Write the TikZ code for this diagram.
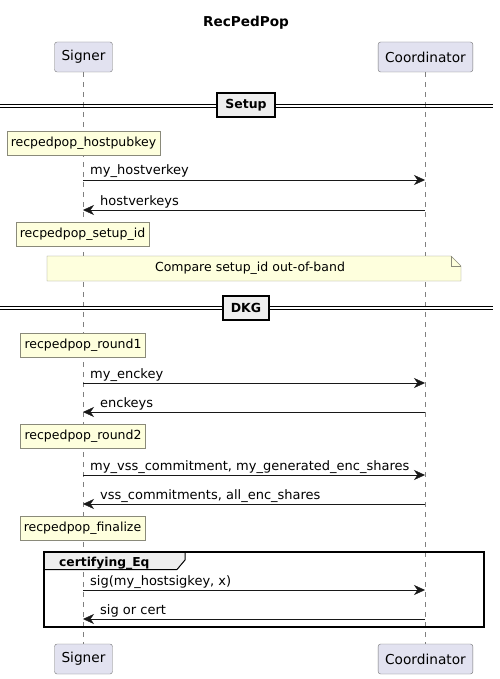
\documentclass[tikz,border=0pt]{standalone}
\usepackage{fontspec}
\setmainfont{DejaVu Sans}
\usetikzlibrary{arrows.meta}
\definecolor{partfill}{HTML}{E2E2F0}
\definecolor{notefill}{HTML}{FEFFDD}
\definecolor{sepfill}{HTML}{EEEEEE}
\definecolor{ink}{HTML}{181818}
\definecolor{noteline}{HTML}{8A8A7A}
\tikzset{
  party/.style={draw=gray!90!black, fill=partfill, rounded corners=2.5pt,
    minimum height=30pt, inner xsep=7pt, font=\fontsize{13.7}{15}\selectfont},
  notebox/.style={draw=noteline, fill=notefill, minimum height=24pt,
    inner xsep=4pt, font=\fontsize{12.5}{14}\selectfont},
  msg/.style={draw=ink, -{Stealth[length=11pt,width=10pt,inset=3.5pt]}},
  msglabel/.style={font=\fontsize{13}{15}\selectfont, anchor=base west,
    inner sep=0pt},
  lifeline/.style={draw=gray, dash pattern=on 5pt off 5pt},
  sepbox/.style={draw, line width=1.8pt, fill=sepfill, minimum height=24pt,
    inner xsep=8pt, font=\bfseries\fontsize{12.5}{14}\selectfont},
}
\begin{document}
\begin{tikzpicture}[x=1pt, y=-1pt]
  \useasboundingbox (0,0) rectangle (499,679);
  \node[font=\bfseries\fontsize{13.6}{15}\selectfont] (title) at (246,23) {RecPedPop};

  % participants
  \node[party] (signerTop) at (83.5,57) {Signer};
  \node[party] (coordTop) at (425.5,57) {Coordinator};
  \node[party] (signerBot) at (83.5,659) {Signer};
  \node[party] (coordBot) at (425.5,659) {Coordinator};
  \draw[lifeline] (signerTop) -- (signerBot);
  \draw[lifeline] (coordTop) -- (coordBot);

  % Setup
  \draw (0,104.3) -- (493,104.3);
  \draw (0,107.3) -- (493,107.3);
  \node[sepbox] (setup) at (246,105) {Setup};

  \node[notebox] (hostpubkey) at (83.5,143) {recpedpop\_hostpubkey};
  \coordinate (s1) at (83,180);  \coordinate (c1) at (425,180);
  \coordinate (s2) at (83,210);  \coordinate (c2) at (425,210);
  \draw[msg] (s1) -- (c1);
  \node[msglabel] (l1) at (90,175) {my\_hostverkey};
  \draw[msg] (c2) -- (s2);
  \node[msglabel] (l2) at (100,205) {hostverkeys};
  \node[notebox] (setupid) at (82.5,234) {recpedpop\_setup\_id};

  \filldraw[draw=noteline, fill=notefill]
    (47,256) -- (451,256) -- (461,266) -- (461,281) -- (47,281) -- cycle;
  \draw[noteline] (451,256) -- (451,266) -- (461,266);
  \node[font=\fontsize{12.5}{14}\selectfont] (compare) at (250,268.5)
    {Compare setup\_id out-of-band};

  % DKG
  \draw (0,306.5) -- (493,306.5);
  \draw (0,309.5) -- (493,309.5);
  \node[sepbox] (dkg) at (246,308) {DKG};

  \node[notebox] (round1) at (83,345.5) {recpedpop\_round1};
  \coordinate (s3) at (83,383);  \coordinate (c3) at (425,383);
  \coordinate (s4) at (83,412);  \coordinate (c4) at (425,412);
  \draw[msg] (s3) -- (c3);
  \node[msglabel] (l3) at (90,378) {my\_enckey};
  \draw[msg] (c4) -- (s4);
  \node[msglabel] (l4) at (100,407) {enckeys};

  \node[notebox] (round2) at (83,436.5) {recpedpop\_round2};
  \coordinate (s5) at (83,475);  \coordinate (c5) at (425,475);
  \coordinate (s6) at (83,504);  \coordinate (c6) at (425,504);
  \draw[msg] (s5) -- (c5);
  \node[msglabel] (l5) at (90,470) {my\_vss\_commitment, my\_generated\_enc\_shares};
  \draw[msg] (c6) -- (s6);
  \node[msglabel] (l6) at (100,499) {vss\_commitments, all\_enc\_shares};

  \node[notebox] (finalize) at (82.5,528) {recpedpop\_finalize};

  % group
  \filldraw[draw=black, fill=sepfill, line width=1pt]
    (44,552) -- (185,552) -- (185,560) -- (177,569.5) -- (44,569.5) -- cycle;
  \draw[line width=2pt] (44,552) rectangle (484,627);
  \node[font=\bfseries\fontsize{12.3}{14}\selectfont, anchor=base west, inner sep=0pt]
    (eq) at (59,566) {certifying\_Eq};
  \coordinate (s7) at (83,590);  \coordinate (c7) at (425,590);
  \coordinate (s8) at (83,619);  \coordinate (c8) at (425,619);
  \draw[msg] (s7) -- (c7);
  \node[msglabel] (l7) at (90,585) {sig(my\_hostsigkey, x)};
  \draw[msg] (c8) -- (s8);
  \node[msglabel] (l8) at (100,614) {sig or cert};
\end{tikzpicture}
\end{document}
